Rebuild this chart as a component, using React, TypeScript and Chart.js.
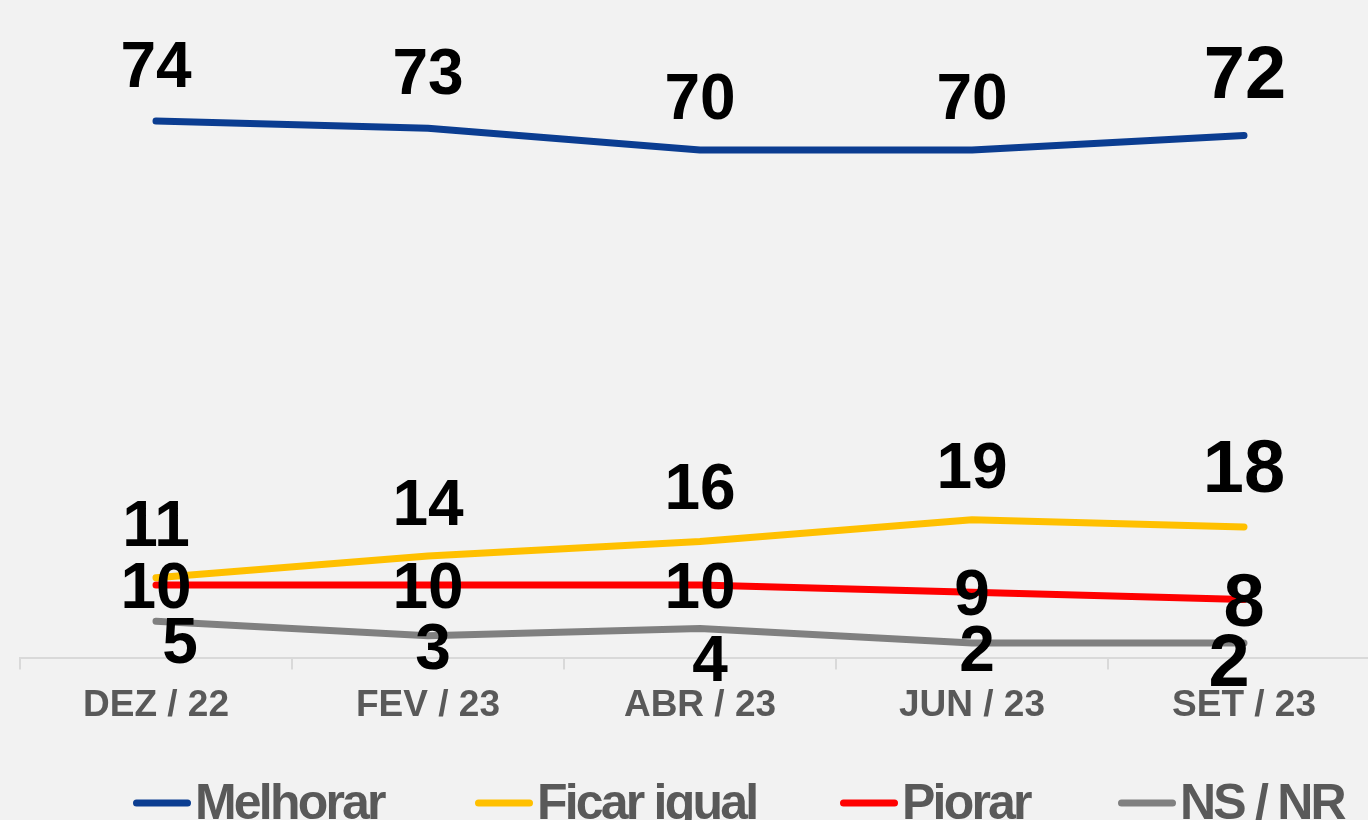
import React, { useEffect, useRef } from "react";
import { Chart, registerables } from "chart.js";

Chart.register(...registerables);

const categories = ["DEZ / 22", "FEV / 23", "ABR / 23", "JUN / 23", "SET / 23"];
const melhorar = [74, 73, 70, 70, 72];
const ficarIgual = [11, 14, 16, 19, 18];
const piorar = [10, 10, 10, 9, 8];
const nsNr = [5, 3, 4, 2, 2];
const seriesNames = ["Melhorar", "Ficar igual", "Piorar", "NS / NR"];
const seriesColors = ["#0b3d91", "#ffc000", "#ff0000", "#808080"];

// label placement (visual centre offset from the point, px)
const labelDx = [
  [0, 0, 0, 0, 1],
  [0, 0, 0, 0, 0],
  [0, 0, 0, 0, 0],
  [24, 5, 10, 5, -15],
];
const labelDy = [
  [-57, -57, -54, -54, -64],
  [-55, -54, -55, -55, -61],
  [0, 0, 0, 0, 0],
  [19, 10, 30, 5, 17],
];
const labelSizes = [64, 64, 64, 64, 74];
const legendX = [133, 475, 840, 1118];

const FONT = "'Liberation Sans', Arial, Helvetica, sans-serif";

const valueLabels = {
  id: "valueLabels",
  afterDatasetsDraw(chart: any) {
    const ctx = chart.ctx;
    ctx.save();
    ctx.fillStyle = "#000000";
    ctx.textAlign = "center";
    ctx.textBaseline = "alphabetic";
    chart.data.datasets.forEach((ds: any, di: number) => {
      const meta = chart.getDatasetMeta(di);
      meta.data.forEach((pt: any, i: number) => {
        const size = labelSizes[i];
        ctx.font = `bold ${size}px ${FONT}`;
        const x = pt.x + labelDx[di][i];
        const y = pt.y + labelDy[di][i] + size * 0.358;
        ctx.fillText(String(ds.data[i]), x, y);
      });
    });
    ctx.restore();
  },
};

const bottomLegend = {
  id: "bottomLegend",
  afterDraw(chart: any) {
    const ctx = chart.ctx;
    ctx.save();
    chart.data.datasets.forEach((ds: any, di: number) => {
      const x0 = legendX[di];
      const lineLen = 58;
      ctx.strokeStyle = ds.borderColor;
      ctx.lineWidth = 7;
      ctx.lineCap = "round";
      ctx.beginPath();
      ctx.moveTo(x0 + 3.5, 803);
      ctx.lineTo(x0 + lineLen - 3.5, 803);
      ctx.stroke();
      ctx.fillStyle = "#595959";
      ctx.font = `bold 50px ${FONT}`;
      try {
        (ctx as any).letterSpacing = "-2.8px";
      } catch (e) {}
      ctx.textAlign = "left";
      ctx.textBaseline = "alphabetic";
      ctx.fillText(ds.label, x0 + lineLen + 4, 819);
      try {
        (ctx as any).letterSpacing = "0px";
      } catch (e) {}
    });
    ctx.restore();
  },
};

export default function App() {
  const canvasRef = useRef<HTMLCanvasElement | null>(null);

  useEffect(() => {
    if (!canvasRef.current) return;
    const allSeries = [melhorar, ficarIgual, piorar, nsNr];
    const chart = new Chart(canvasRef.current, {
      type: "line",
      data: {
        labels: categories,
        datasets: allSeries.map((data, i) => ({
          label: seriesNames[i],
          data,
          borderColor: seriesColors[i],
          backgroundColor: seriesColors[i],
          borderWidth: 7,
          borderCapStyle: "round",
          borderJoinStyle: "round",
          pointRadius: 0,
          pointHoverRadius: 0,
          tension: 0,
          fill: false,
        })),
      },
      options: {
        responsive: false,
        animation: false,
        devicePixelRatio: 1,
        layout: { padding: { left: 20, right: 20, top: 77.5, bottom: 102.5 } },
        plugins: {
          legend: { display: false },
          tooltip: { enabled: false },
        },
        scales: {
          x: {
            offset: true,
            grid: {
              display: true,
              drawOnChartArea: false,
              drawTicks: true,
              tickLength: 12,
              color: "#d9d9d9",
              lineWidth: 2,
              offset: true,
            },
            border: { display: true, color: "#d9d9d9", width: 2 },
            ticks: {
              color: "#595959",
              font: { family: FONT, size: 37, weight: "bold" },
              padding: 14,
              maxRotation: 0,
              autoSkip: false,
            },
            afterFit: (axis: any) => {
              axis.height = 100;
            },
          },
          y: {
            display: false,
            min: 0,
            max: 80,
          },
        },
      },
      plugins: [valueLabels, bottomLegend],
    } as any);
    return () => chart.destroy();
  }, []);

  return (
    <div
      style={{
        position: "fixed",
        left: 0,
        top: 0,
        width: 1368,
        height: 820,
        overflow: "hidden",
        background: "#f2f2f2",
      }}
    >
      <canvas
        ref={canvasRef}
        width={1400}
        height={860}
        style={{ display: "block", width: 1400, height: 860 }}
      />
    </div>
  );
}
